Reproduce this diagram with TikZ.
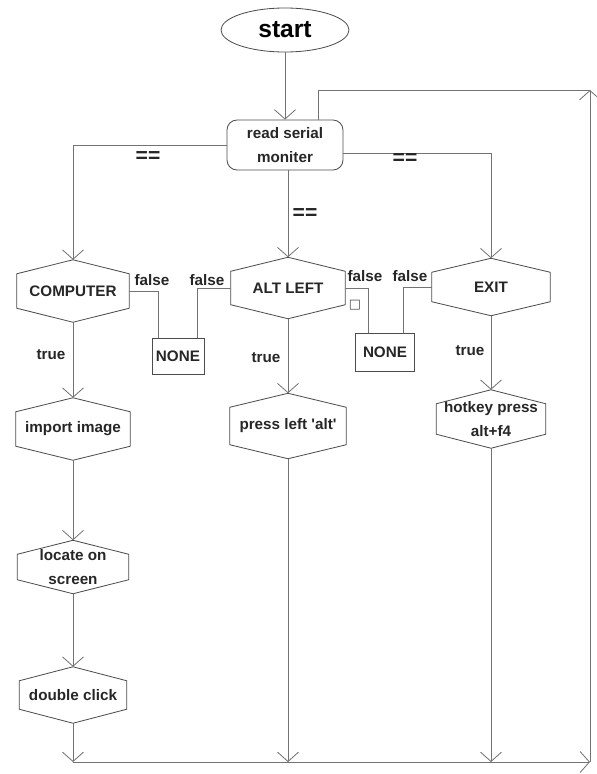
\documentclass[tikz,border=0pt]{standalone}
\usepackage{fontspec}
\setmainfont{Liberation Sans}
\newfontfamily\symfont{DejaVu Sans}
\usepackage{tikz}
\usetikzlibrary{shapes.geometric, arrows.meta, positioning}

\newcommand{\hexpeak}{0.42cm}

\begin{document}
\begin{tikzpicture}[x=0.03cm, y=-0.03cm,
    conn/.style={draw=black!55, line width=0.7pt},
    flow/.style={conn, -{Straight Barb[length=8pt, width=18pt]}},
    txt/.style={font=\fontsize{13}{20}\selectfont\bfseries, text=black!85, align=center},
    hexa/.style={txt, inner sep=0pt},
    boxed/.style={txt, draw=black!70, line width=0.7pt, inner sep=0pt},
    lbl/.style={font=\fontsize{13}{16}\selectfont\bfseries, text=black!85},
    eqlbl/.style={font=\fontsize{18}{20}\selectfont\bfseries, text=black!85}]
        \useasboundingbox (0,0) rectangle (597,774);

        % Start and input
        \node[ellipse, draw=black!70, line width=0.7pt, minimum width=3.84cm, minimum height=1.32cm,
              font=\fontsize{21}{24}\selectfont\bfseries] (start) at (285,30) {start};
        \node[boxed, rounded corners=0.3cm, minimum width=3.48cm, minimum height=1.5cm] (read) at (285,145) {read serial\\moniter};

        % Decisions
        \node[hexa, minimum width=3.36cm, minimum height=1.86cm] (computer) at (73,291) {COMPUTER};
        \node[hexa, minimum width=3.42cm, minimum height=1.83cm] (altleft) at (288,288) {ALT LEFT};
        \node[hexa, minimum width=3.54cm, minimum height=1.71cm] (exit) at (491,287) {EXIT};

        % Actions
        \node[hexa, minimum width=3.42cm, minimum height=1.86cm] (importimg) at (73,429) {import image};
        \node[hexa, minimum width=3.33cm, minimum height=1.59cm] (locate) at (73,567) {locate on\\screen};
        \node[hexa, minimum width=3.21cm, minimum height=1.68cm] (dclick) at (73,695) {double click};
        \node[hexa, minimum width=3.48cm, minimum height=1.95cm] (pressalt) at (288,426) {press left \textquotesingle alt\textquotesingle};
        \node[hexa, minimum width=3.27cm, minimum height=1.74cm] (hotkey) at (491,419) {hotkey press\\alt+f4};

        % Hexagon outlines
        \foreach \n in {computer, altleft, exit, importimg, locate, dclick, pressalt, hotkey} {
            \draw[draw=black!70, line width=0.7pt] (\n.north) -- ([yshift=-\hexpeak]\n.north east)
                -- ([yshift=\hexpeak]\n.south east) -- (\n.south)
                -- ([yshift=\hexpeak]\n.south west) -- ([yshift=-\hexpeak]\n.north west) -- cycle;
        }

        % Nothing to do
        \node[boxed, minimum width=1.56cm, minimum height=1.08cm] (noneA) at (178,356) {NONE};
        \node[boxed, minimum width=1.77cm, minimum height=1.14cm] (noneB) at (385,352) {NONE};

        % Main flow
        \draw[flow] (start) -- (read);
        \draw[flow] (read.west) -| (computer.north);
        \draw[flow] (read.south -| altleft.north) -- (altleft.north);
        \draw[flow] ([yshift=-0.24cm]read.east) -| (exit.north);

        \draw[flow] (computer.south) -- (importimg.north);
        \draw[flow] (importimg.south) -- (locate.north);
        \draw[flow] (locate.south) -- (dclick.north);
        \draw[flow] (altleft.south) -- (pressalt.north);
        \draw[flow] (exit.south) -- (hotkey.north);

        \draw[conn] (computer.east) -| ([xshift=-0.6cm]noneA.north);
        \draw[conn] (altleft.west) -| ([xshift=0.57cm]noneA.north);
        \draw[conn] (altleft.east) -| ([xshift=-0.5cm]noneB.north);
        \draw[conn] (exit.west) -| ([xshift=0.55cm]noneB.north);

        % Loop back
        \coordinate (botleft) at (73,762);
        \coordinate (botright) at (590,762);
        \coordinate (topright) at (590,90);
        \coordinate (topleft) at (318,90);
        \draw[flow] (dclick.south) -- (botleft);
        \draw[flow] (pressalt.south) -- (pressalt.south |- botleft);
        \draw[flow] (hotkey.south) -- (hotkey.south |- botleft);
        \draw[flow] (botleft) -- (botright);
        \draw[flow] (botright) -- (topright);
        \draw[conn] (topright) -- (topleft) -- (topleft |- read.north);

        % Labels
        \node[eqlbl] (eqA) at (148,157) {==};
        \node[eqlbl] (eqB) at (405,159) {==};
        \node[eqlbl] (eqC) at (305,214) {==};
        \node[lbl] (fA) at (152,280) {false};
        \node[lbl] (fB) at (207,280) {false};
        \node[lbl] (fC) at (365,276) {false};
        \node[lbl] (fD) at (410,276) {false};
        \node[lbl] (tA) at (51,355) {true};
        \node[lbl] (tB) at (266,358) {true};
        \node[lbl] (tC) at (470,351) {true};
        \node[font=\symfont\fontsize{11}{12}\selectfont, text=black!70] (tofu) at (355,305) {□};
    \end{tikzpicture}
\end{document}
